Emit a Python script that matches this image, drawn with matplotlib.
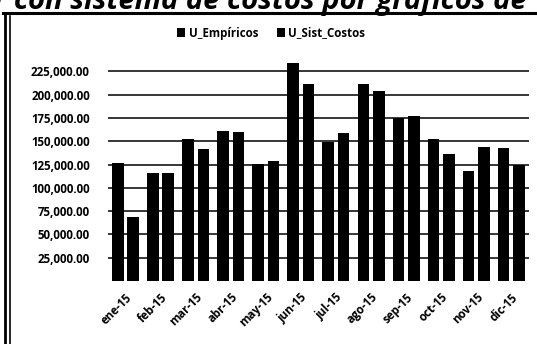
import numpy as np
import matplotlib
matplotlib.use('Agg')
import matplotlib.pyplot as plt
from matplotlib.lines import Line2D
from matplotlib.ticker import FuncFormatter

months = ['ene-15', 'feb-15', 'mar-15', 'abr-15', 'may-15', 'jun-15',
          'jul-15', 'ago-15', 'sep-15', 'oct-15', 'nov-15', 'dic-15']
u_empiricos = [127000, 116000, 152000, 161000, 126000, 234000,
               149500, 212000, 174500, 152500, 118000, 142500]
u_sist_costos = [69000, 116000, 141500, 160000, 129000, 212000,
                 158500, 204000, 177000, 136500, 144000, 124500]
y_ticks = [25000, 50000, 75000, 100000, 125000, 150000, 175000, 200000, 225000]

plt.rcParams['font.family'] = ['Open Sans', 'DejaVu Sans']

fig = plt.figure(figsize=(5.37, 3.44), dpi=100)
ax = fig.add_axes([0.201, 0.183, 0.784, 0.677])

x = np.arange(len(months))
w = 0.33
ax.bar(x - 0.22, u_empiricos, w, color='black', label='U_Empíricos', zorder=3)
ax.bar(x + 0.22, u_sist_costos, w, color='black', label='U_Sist_Costos', zorder=3)

ax.set_xlim(-0.5, len(months) - 0.5)
ax.set_ylim(0, 250000)
ax.set_yticks(y_ticks)
ax.yaxis.set_major_formatter(FuncFormatter(lambda v, p: f'{v:,.2f}'))
ax.grid(axis='y', color='black', linewidth=1.1, zorder=0)
ax.set_xticks(x)
ax.set_xticklabels(months, rotation=45, ha='right', rotation_mode='anchor')
ax.tick_params(axis='both', length=0, labelsize=8.3)
ax.tick_params(axis='y', pad=13)
ax.tick_params(axis='x', pad=7)
for lab in ax.get_xticklabels() + ax.get_yticklabels():
    lab.set_fontweight('bold')
for s in ax.spines.values():
    s.set_visible(False)

fig.legend(loc='center', bbox_to_anchor=(0.505, 0.904), ncol=2, frameon=False,
           handlelength=0.7, handleheight=0.7, handletextpad=0.3, columnspacing=1.6,
           prop={'size': 8.3, 'weight': 'bold'})

# cut-off caption from the scanned page
fig.text(-0.012, 1 - 9 / 344, 'r con sistema de costos por gráficos de',
         fontsize=21, fontweight='bold', fontstyle='italic', va='baseline')

# frame around the chart
fig.add_artist(Line2D([0.006, 1.0], [1 - 13 / 344] * 2, color='black', lw=2.2))
fig.add_artist(Line2D([0.009, 0.009], [0.0, 1 - 13 / 344], color='black', lw=2.0))
fig.add_artist(Line2D([0.018, 0.018], [0.0, 1 - 16 / 344], color='black', lw=1.2))

fig.savefig('out.png', dpi=100)
